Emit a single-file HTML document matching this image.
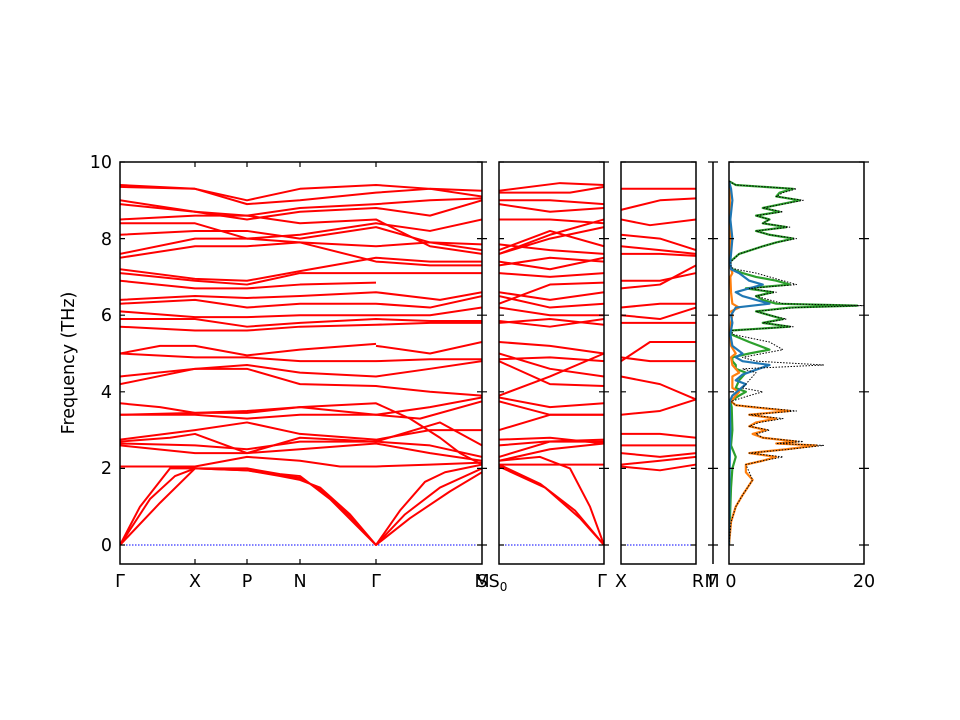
<!DOCTYPE html>
<html><head><meta charset="utf-8"><style>
body{margin:0;background:#fff}
svg{display:block}
text{font-family:"DejaVu Sans","Liberation Sans",sans-serif;font-size:17.5px;fill:#000}
.b polyline{fill:none;stroke:#f00;stroke-width:2;stroke-linejoin:round;vector-effect:non-scaling-stroke}
.d polyline{fill:none;stroke-linejoin:round;vector-effect:non-scaling-stroke}
</style></head><body>
<svg width="960" height="720" viewBox="0 0 960 720" xmlns="http://www.w3.org/2000/svg">
<defs>
<clipPath id="c1"><rect x="120" y="162" width="362" height="402"/></clipPath>
<clipPath id="c5"><rect x="729" y="162" width="135" height="402"/></clipPath>
</defs>
<g stroke="#00f" stroke-width="1" stroke-dasharray="1.5,1.5">
<line x1="120" y1="545" x2="482" y2="545"/><line x1="499" y1="545" x2="604" y2="545"/><line x1="621" y1="545" x2="696" y2="545"/>
</g>
<!-- panel 1 -->
<g clip-path="url(#c1)">
<g class="b" transform="translate(0,545) scale(1,-38.3)">
<polyline points="120,0 150,1.2 175,1.8 195,2.0 247,1.95 280,1.8 300,1.7 320,1.5 350,0.8 376,0 400,0.9 425,1.65 445,1.9 482,2.1"/>
<polyline points="120,0 160,1.1 195,2.0 247,1.95 280,1.82 300,1.75 320,1.45 350,0.75 376,0 405,0.8 440,1.5 482,2.0"/>
<polyline points="120,0 140,1.0 170,2.0 195,2.0 247,2.0 280,1.85 300,1.8 330,1.2 376,0 410,0.7 450,1.4 482,1.9"/>
<polyline points="120,2.05 195,2.05 247,2.3 300,2.2 340,2.05 376,2.05 430,2.1 482,2.15"/>
<polyline points="120,2.6 195,2.4 247,2.4 300,2.5 376,2.65 430,2.4 482,2.2"/>
<polyline points="120,2.65 195,2.6 247,2.5 300,2.7 376,2.7 430,2.6 482,2.3"/>
<polyline points="120,2.7 170,2.8 195,2.9 247,2.4 300,2.8 376,2.7 440,3.2 482,2.6"/>
<polyline points="120,2.75 195,3.0 247,3.2 300,2.9 376,2.75 430,3.0 482,3.0"/>
<polyline points="120,3.4 195,3.4 247,3.3 300,3.4 376,3.4 420,3.3 482,3.75"/>
<polyline points="120,3.4 195,3.45 247,3.45 300,3.6 376,3.4 430,3.6 482,3.85"/>
<polyline points="120,3.7 160,3.6 195,3.45 247,3.5 300,3.6 376,3.7 410,3.3 440,2.8 460,2.4 482,2.1"/>
<polyline points="120,4.2 195,4.6 247,4.6 300,4.2 376,4.15 430,4.0 482,3.9"/>
<polyline points="120,4.4 195,4.6 247,4.7 300,4.5 376,4.4 430,4.6 482,4.8"/>
<polyline points="120,5.0 195,4.9 247,4.9 300,4.8 376,4.8 430,4.85 482,4.85"/>
<polyline points="120,5.0 160,5.2 195,5.2 247,4.95 300,5.1 376,5.25"/>
<polyline points="376,5.2 430,5.0 482,5.3"/>
<polyline points="120,5.7 195,5.6 247,5.6 300,5.7 376,5.75 430,5.8 482,5.8"/>
<polyline points="120,5.9 195,5.9 247,5.7 300,5.8 376,5.9 430,5.85 482,5.85"/>
<polyline points="120,6.1 195,5.95 247,5.95 300,6.0 376,6.0 430,6.0 482,6.2"/>
<polyline points="120,6.3 195,6.4 247,6.2 300,6.3 376,6.3 430,6.2 482,6.5"/>
<polyline points="120,6.4 195,6.5 247,6.45 300,6.5 376,6.6 440,6.4 482,6.6"/>
<polyline points="120,6.9 195,6.7 247,6.7 300,6.8 376,6.85"/>
<polyline points="120,7.1 195,6.9 247,6.8 300,7.1 376,7.1 430,7.1 482,7.1"/>
<polyline points="120,7.2 195,6.95 247,6.9 300,7.15 376,7.5 430,7.4 482,7.4"/>
<polyline points="120,7.5 195,7.8 247,7.8 300,7.9 376,7.4 430,7.3 482,7.3"/>
<polyline points="120,7.6 195,8.0 247,8.0 300,7.9 376,7.8 430,7.9 482,7.7"/>
<polyline points="120,8.1 195,8.2 247,8.2 300,8.0 376,8.3 430,7.9 482,7.85"/>
<polyline points="120,8.4 195,8.4 247,8.0 300,8.1 376,8.4 430,8.2 482,8.5"/>
<polyline points="120,8.5 195,8.6 247,8.6 300,8.4 376,8.5 430,7.8 482,7.6"/>
<polyline points="120,8.9 195,8.7 247,8.5 300,8.7 376,8.8 430,8.6 482,9.0"/>
<polyline points="120,9.0 195,8.7 247,8.6 300,8.8 376,8.9 430,9.0 482,9.05"/>
<polyline points="120,9.35 195,9.3 247,8.9 300,9.0 376,9.2 430,9.3 482,9.25"/>
<polyline points="120,9.4 195,9.3 247,9.0 300,9.3 376,9.4 430,9.3 482,9.1"/>
</g>
</g>
<!-- panel 2 -->
<g class="b" transform="translate(0,545) scale(1,-38.3)">
<polyline points="499,2.1 540,1.6 575,0.9 604,0"/>
<polyline points="499,2.05 545,1.5 580,0.7 604,0"/>
<polyline points="499,2.2 540,2.3 570,2.0 590,1.0 604,0"/>
<polyline points="499,2.1 604,2.1"/>
<polyline points="499,2.2 550,2.5 604,2.65"/>
<polyline points="499,2.3 550,2.7 604,2.7"/>
<polyline points="499,2.6 545,2.7 604,2.75"/>
<polyline points="499,2.75 550,2.8 604,2.65"/>
<polyline points="499,3.0 550,3.4 604,3.4"/>
<polyline points="499,3.75 550,3.4 604,3.4"/>
<polyline points="499,3.85 550,3.6 604,3.7"/>
<polyline points="499,3.9 550,4.4 604,5.0"/>
<polyline points="499,4.8 550,4.2 604,4.15"/>
<polyline points="499,4.85 550,4.9 604,4.8"/>
<polyline points="499,5.3 550,5.2 604,5.0"/>
<polyline points="499,5.0 550,4.6 604,4.4"/>
<polyline points="499,5.8 550,5.9 604,5.75"/>
<polyline points="499,5.85 550,5.7 604,5.9"/>
<polyline points="499,6.2 550,6.0 604,6.0"/>
<polyline points="499,6.5 550,6.2 604,6.3"/>
<polyline points="499,6.6 550,6.4 604,6.6"/>
<polyline points="499,6.3 550,6.8 604,6.85"/>
<polyline points="499,7.1 550,7.0 604,7.1"/>
<polyline points="499,7.4 550,7.2 604,7.5"/>
<polyline points="499,7.3 550,7.5 604,7.4"/>
<polyline points="499,7.7 550,8.2 604,7.8"/>
<polyline points="499,7.6 550,8.0 604,8.3"/>
<polyline points="499,7.85 550,7.7 604,7.6"/>
<polyline points="499,8.5 550,8.5 604,8.4"/>
<polyline points="499,7.6 550,8.1 604,8.5"/>
<polyline points="499,9.0 550,9.0 604,8.9"/>
<polyline points="499,8.9 550,8.7 604,8.8"/>
<polyline points="499,9.25 560,9.45 604,9.4"/>
<polyline points="499,9.2 570,9.2 604,9.35"/>
</g>
<!-- panel 3 -->
<g class="b" transform="translate(0,545) scale(1,-38.3)">
<polyline points="621,9.3 696,9.3"/>
<polyline points="621,8.75 660,9.0 696,9.05"/>
<polyline points="621,8.5 650,8.35 696,8.5"/>
<polyline points="621,8.1 660,8.0 696,7.7"/>
<polyline points="621,7.8 660,7.7 696,7.6"/>
<polyline points="621,7.6 660,7.6 696,7.55"/>
<polyline points="621,6.7 660,6.8 696,7.3"/>
<polyline points="621,6.9 660,6.9 696,7.1"/>
<polyline points="621,6.2 660,6.3 696,6.3"/>
<polyline points="621,6.0 660,5.9 696,6.2"/>
<polyline points="621,5.8 660,5.8 696,5.8"/>
<polyline points="621,4.8 650,5.3 696,5.3"/>
<polyline points="621,4.9 650,4.8 696,4.8"/>
<polyline points="621,4.4 660,4.2 696,3.8"/>
<polyline points="621,3.4 660,3.5 696,3.8"/>
<polyline points="621,2.9 660,2.9 696,2.8"/>
<polyline points="621,2.6 660,2.6 696,2.6"/>
<polyline points="621,2.4 660,2.3 696,2.4"/>
<polyline points="621,2.1 660,2.2 696,2.3"/>
<polyline points="621,2.05 660,1.95 696,2.1"/>
</g>
<!-- DOS -->
<g clip-path="url(#c5)">
<g class="d" transform="translate(729,545) scale(6.75,-38.3)">
<polyline stroke="#2ca02c" stroke-width="2.2" points="0,0 0.3,1.5 0.5,2.0 1.0,2.3 0.3,2.6 0.5,3.0 0.4,3.6 0.2,3.75 1.5,3.9 2.5,4.0 1,4.1 1.5,4.3 2.5,4.5 1,4.6 1,4.7 0.5,4.8 0.5,4.9 3,5.0 6,5.1 3,5.3 0.3,5.5 0.3,5.6 9,5.7 5,5.8 8,5.9 6,6.0 4,6.1 9,6.2 19,6.25 7,6.3 5,6.4 4,6.5 6.5,6.6 2.5,6.7 9,6.8 7,6.9 4,7.0 2,7.1 0.5,7.2 0.2,7.25 0.2,7.4 1.5,7.6 5,7.8 7,7.9 9.5,8.0 6,8.1 4,8.2 8.5,8.3 5,8.4 6,8.5 4,8.6 7.5,8.7 5,8.8 10.5,9.0 7,9.1 7.5,9.2 9.5,9.3 1,9.4 0,9.5"/>
<polyline stroke="#ff7f0e" stroke-width="2.2" points="0,0 0.3,0.6 1,1.0 2,1.3 3.5,1.7 2.5,1.9 2.5,2.1 5,2.2 7,2.3 3,2.4 8.5,2.5 13,2.6 7,2.65 10,2.7 5,2.8 3.5,2.9 5.5,3.0 3,3.1 4,3.2 7,3.3 3,3.4 9,3.5 3.5,3.6 1,3.65 0.3,3.75 1,3.9 1.5,4.0 0.5,4.1 0.5,4.4 1.5,4.5 0.5,4.7 0.3,4.9 1,5.0 0.3,5.2 0.2,5.5 0.3,5.8 0.5,6.0 0.3,6.1 1.5,6.2 0.5,6.3 0.3,6.6 0.2,7.0 0.5,7.1 0.1,7.3 0.2,8 0.1,9.3 0,9.5"/>
<polyline stroke="#1f77b4" stroke-width="2.2" points="0,0 0.1,2.0 0.2,3.0 0.1,3.75 0.5,3.9 2.5,4.2 1,4.3 2,4.45 6,4.7 2,4.8 1,4.9 2,5.0 0.5,5.2 0.2,5.5 0.5,5.8 0.3,6.0 1,6.2 6,6.3 2,6.5 1,6.6 5,6.8 3,6.9 1.5,7.1 0.3,7.2 0.2,7.4 0.5,8.0 0.2,8.5 0.5,9.0 0.3,9.3 0,9.5"/>
<polyline stroke="#000" stroke-width="1" stroke-dasharray="1.5,1.5" points="0,0 0.3,0.6 1,1.0 2,1.3 3.5,1.7 3,1.9 2.5,2.1 5,2.2 8,2.3 3,2.4 9,2.5 14,2.6 7,2.65 11,2.7 5,2.8 4,2.9 6,3.0 3,3.1 4.5,3.2 8,3.3 3,3.4 10,3.5 4,3.6 1,3.65 0.3,3.75 3,3.9 5,4.0 2,4.1 3,4.3 4,4.5 2,4.6 14,4.7 4,4.8 2,4.9 5,5.0 8,5.1 6,5.3 0.5,5.5 0.5,5.6 9.5,5.7 5,5.8 8.5,5.9 6,6.0 4,6.1 10,6.2 20,6.25 8,6.3 6,6.4 4,6.5 7,6.6 3,6.7 10,6.8 8,6.9 6,7.0 4,7.1 1,7.2 0.3,7.25 0.3,7.4 1.5,7.6 5,7.8 7,7.9 10,8.0 6,8.1 4,8.2 9,8.3 5,8.4 6,8.5 4,8.6 8,8.7 5,8.8 11,9.0 7,9.1 8,9.2 10,9.3 1,9.4 0,9.5"/>
</g>
</g>
<g fill="none" stroke="#000" stroke-width="1.5">
<rect x="120" y="162" width="362" height="402"/>
<rect x="499" y="162" width="105" height="402"/>
<rect x="621" y="162" width="75" height="402"/>
<rect x="729" y="162" width="135" height="402"/>
<line x1="713" y1="162" x2="713" y2="564"/>
</g>
<g stroke="#000" stroke-width="1.2">
<path d="M120,545h5M120,468.4h5M120,391.8h5M120,315.2h5M120,238.6h5M120,162h5
M482,545h-5M482,468.4h-5M482,391.8h-5M482,315.2h-5M482,238.6h-5M482,162h-5
M482,545h5M482,468.4h5M482,391.8h5M482,315.2h5M482,238.6h5M482,162h5
M499,545h5M499,468.4h5M499,391.8h5M499,315.2h5M499,238.6h5M499,162h5
M604,545h-5M604,468.4h-5M604,391.8h-5M604,315.2h-5M604,238.6h-5M604,162h-5
M604,545h5M604,468.4h5M604,391.8h5M604,315.2h5M604,238.6h5M604,162h5
M621,545h5M621,468.4h5M621,391.8h5M621,315.2h5M621,238.6h5M621,162h5
M696,545h-5M696,468.4h-5M696,391.8h-5M696,315.2h-5M696,238.6h-5M696,162h-5
M708,545h10M708,468.4h10M708,391.8h10M708,315.2h10M708,238.6h10M708,162h10
M729,545h5M729,468.4h5M729,391.8h5M729,315.2h5M729,238.6h5M729,162h5
M864,545h-5M864,468.4h-5M864,391.8h-5M864,315.2h-5M864,238.6h-5M864,162h-5
M864,545h5M864,468.4h5M864,391.8h5M864,315.2h5M864,238.6h5M864,162h5
M195,564v-5M247,564v-5M300,564v-5M376,564v-5M195,162v5M247,162v5M300,162v5M376,162v5"/>
</g>
<g text-anchor="end">
<text x="112" y="551">0</text><text x="112" y="474">2</text><text x="112" y="398">4</text>
<text x="112" y="321">6</text><text x="112" y="245">8</text><text x="112" y="168">10</text>
</g>
<text transform="translate(74,363) rotate(-90)" text-anchor="middle">Frequency (THz)</text>
<g text-anchor="middle">
<text x="120" y="587">Γ</text><text x="195" y="587">X</text><text x="247" y="587">P</text>
<text x="300" y="587">N</text><text x="376" y="587">Γ</text><text x="482" y="587">S</text><text x="482" y="587">M</text>
<text x="498" y="587">S<tspan font-size="12" dy="4">0</tspan></text>
<text x="602" y="587">Γ</text><text x="621" y="587">X</text><text x="698" y="587">R</text>
<text x="712" y="587">M</text><text x="713" y="587">Γ</text>
<text x="731" y="587">0</text><text x="864" y="587">20</text>
</g>
</svg>
</body></html>
